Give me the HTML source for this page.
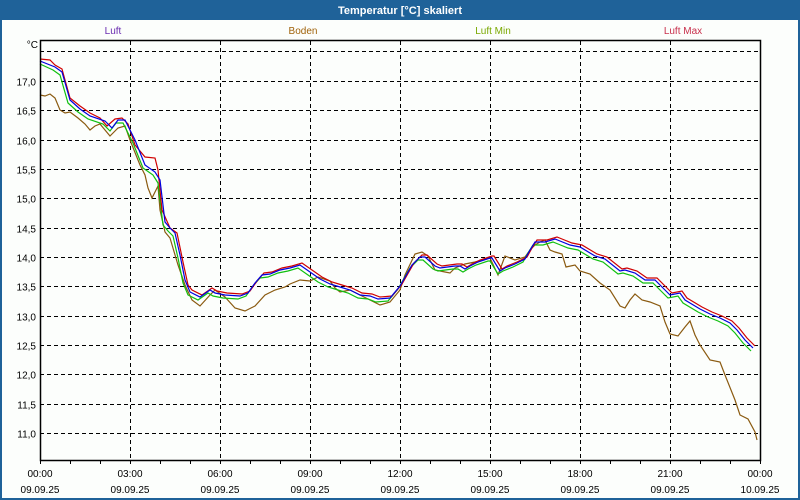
<!DOCTYPE html>
<html><head><meta charset="utf-8"><style>
html,body{margin:0;padding:0;background:#fff}
#w{position:relative;width:800px;height:500px;overflow:hidden;font-family:"Liberation Sans","DejaVu Sans",sans-serif}
</style></head><body><div id="w">
<svg id="s" width="800" height="500" xmlns="http://www.w3.org/2000/svg" font-family="Liberation Sans, DejaVu Sans, sans-serif" font-size="10">
<rect x="0" y="0" width="800" height="500" fill="#1f6299"/>
<rect x="2" y="20" width="796" height="478" fill="#fcfefc"/>
<text x="400" y="14" fill="#fff" font-weight="bold" font-size="11" text-anchor="middle">Temperatur [°C] skaliert</text>
<text x="113" y="34" fill="#6a2cb0" text-anchor="middle">Luft</text>
<text x="303" y="34" fill="#a0620a" text-anchor="middle">Boden</text>
<text x="493" y="34" fill="#7aa800" text-anchor="middle">Luft Min</text>
<text x="683" y="34" fill="#c8304c" text-anchor="middle">Luft Max</text>
<text x="38" y="48" fill="#000" text-anchor="end">°C</text>
<g id="grid" stroke="#000" stroke-dasharray="4,3" stroke-width="1"></g>
<g id="lab" fill="#000" font-size="10"></g>
<g fill="none" stroke-width="1.2">
<polyline id="bo" stroke="#8a5a10"/>
<polyline id="gr" stroke="#10c010"/>
<polyline id="re" stroke="#d00000"/>
<polyline id="bl" stroke="#0000e0"/>
</g>
<rect x="40.5" y="40.5" width="720" height="420" fill="none" stroke="#000" stroke-width="1.5"/>
</svg>
<script>
var NS="http://www.w3.org/2000/svg";
function el(p,t,a,txt){var e=document.createElementNS(NS,t);for(var k in a)e.setAttribute(k,a[k]);if(txt)e.textContent=txt;p.appendChild(e);return e;}
var g=document.getElementById('grid'),lab=document.getElementById('lab');
for(var i=0;i<=12;i++){var y=Math.round(81+i*29.33)+0.5;el(g,'line',{x1:40,x2:760,y1:y,y2:y});
var v=(17-i*0.5).toFixed(1).replace('.',',');el(lab,'text',{x:36,y:y+4,'text-anchor':'end'},v);}
el(g,'line',{x1:40,x2:760,y1:51.5,y2:51.5});
for(var h=3;h<24;h+=3){var x=40+h*30+0.5;el(g,'line',{x1:x,x2:x,y1:41,y2:460});}
var s=document.getElementById('s');
for(var h=0;h<=24;h++){var x=40+h*30+0.5;el(s,'line',{x1:x,x2:x,y1:460,y2:464,stroke:'#000'});}
var times=['00:00','03:00','06:00','09:00','12:00','15:00','18:00','21:00','00:00'];
for(var i=0;i<9;i++){var x=40+i*90;el(lab,'text',{x:x,y:477,'text-anchor':'middle'},times[i]);
el(lab,'text',{x:x,y:493,'text-anchor':'middle'},i==8?'10.09.25':'09.09.25');}
var blue=[[40,61],[55,67],[62,72],[70,100],[80,109],[90,116],[105,121],[112,128],[118,120],[125,120],[130,130],[135,140],[145,165],[155,172],[160,180],[165,222],[170,228],[175,233],[180,255],[185,280],[190,292],[200,297],[210,290],[215,293],[225,295],[240,296],[248,293],[255,283],[262,275],[270,274],[280,270],[290,268],[300,265],[310,272],[320,279],[330,284],[340,287],[350,290],[360,295],[370,296],[378,299],[390,298],[400,286],[412,265],[420,257],[425,257],[435,266],[440,268],[455,266],[460,266],[465,269],[470,266],[478,262],[490,258],[492,258],[500,271],[505,268],[515,264],[525,259],[530,250],[535,242],[545,242],[555,239],[560,241],[570,245],[580,247],[595,256],[605,259],[620,271],[625,270],[635,273],[645,280],[655,280],[665,290],[670,295],[680,293],[685,300],[700,309],[710,314],[720,318],[730,323],[737,330],[745,340],[753,348]];
var boden=[[40,95],[45,96],[50,94],[55,98],[60,110],[65,113],[70,112],[78,118],[85,124],[90,130],[95,126],[100,124],[110,136],[118,128],[125,126],[130,140],[140,165],[145,175],[148,188],[152,198],[158,186],[160,210],[165,232],[170,238],[178,265],[185,285],[192,300],[200,306],[210,295],[215,290],[225,297],[235,308],[245,311],[255,306],[265,295],[275,290],[285,287],[290,284],[300,280],[310,281],[318,277],[330,281],[335,288],[340,292],[350,290],[360,295],[370,300],[380,305],[390,302],[400,290],[405,275],[415,254],[422,252],[428,256],[435,270],[445,272],[450,273],[455,268],[465,264],[475,262],[490,258],[498,275],[505,256],[515,260],[525,257],[530,250],[535,245],[540,242],[545,240],[550,250],[555,252],[562,254],[566,267],[575,265],[580,271],[590,274],[600,283],[610,290],[620,306],[625,308],[630,300],[635,294],[642,300],[650,302],[660,306],[665,322],[670,334],[678,336],[685,327],[690,321],[695,335],[700,345],[710,360],[720,362],[725,375],[735,400],[740,415],[748,419],[755,432],[757,440]];
var redEarly=[[40,59],[50,60],[55,65],[62,69],[65,80],[70,98],[80,106],[90,113],[100,118],[107,126],[115,119],[122,118],[128,124],[135,145],[145,157],[155,158],[158,170],[162,210],[170,228],[177,233],[183,262],[188,285]];
function pts(a,dx,dy){return a.map(function(p){return (p[0]+dx)+','+(p[1]+dy)}).join(' ');}
var red=redEarly.concat(blue.filter(function(p){return p[0]>=190}).map(function(p){return [Math.min(p[0]+2,756),p[1]-2]}));
document.getElementById('bl').setAttribute('points',pts(blue,0,0));
document.getElementById('re').setAttribute('points',pts(red,0,0));
document.getElementById('gr').setAttribute('points',pts(blue.map(function(p){return [Math.max(p[0]-2,40),p[1]]}),0,3));
document.getElementById('bo').setAttribute('points',pts(boden,0,0));
</script>
</div></body></html>
